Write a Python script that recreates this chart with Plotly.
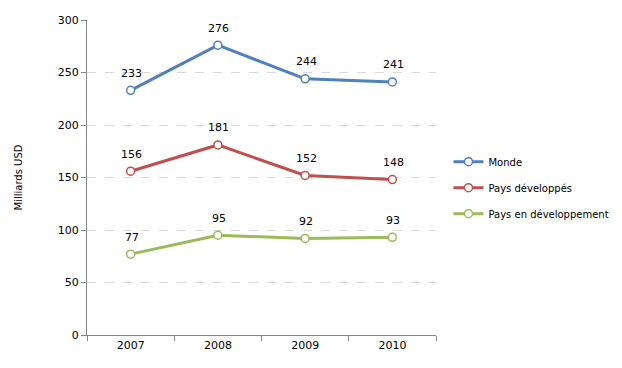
import plotly.graph_objects as go

years = ["2007", "2008", "2009", "2010"]
monde = [233, 276, 244, 241]
developpes = [156, 181, 152, 148]
en_dev = [77, 95, 92, 93]

series = [
    ("Monde", monde, "#4F81BD"),
    ("Pays développés", developpes, "#C0504D"),
    ("Pays en développement", en_dev, "#9BBB59"),
]

FONT = "DejaVu Sans"
fig = go.Figure()
annotations = []
for i, (name, vals, col) in enumerate(series):
    fig.add_trace(go.Scatter(
        x=years, y=vals, name=name, legendgroup=f"g{i}",
        mode="lines+markers",
        line=dict(color=col, width=3),
        marker=dict(symbol="circle", size=8, color="white",
                    line=dict(color=col, width=1.5)),
        cliponaxis=False,
    ))
    for j, v in enumerate(vals):
        annotations.append(dict(x=j, y=v, xref="x", yref="y", text=str(v),
                                showarrow=False, yshift=17, xshift=1,
                                font=dict(family=FONT, size=11, color="#000000")))

fig.update_layout(
    width=622, height=368,
    margin=dict(l=87, r=186, t=20, b=33),
    paper_bgcolor="white", plot_bgcolor="white",
    font=dict(family=FONT, size=11, color="#000000"),
    showlegend=True,
    annotations=annotations,
    legend=dict(xref="container", yref="container", x=0.721, y=0.6,
                xanchor="left", yanchor="top",
                font=dict(family=FONT, size=10, color="#000000"),
                tracegroupgap=7, itemwidth=30),
    xaxis=dict(type="category", range=[-0.5, 3.5], tickson="boundaries",
               showline=True, linecolor="#868686", linewidth=1,
               ticks="outside", ticklen=5, tickcolor="#868686",
               showgrid=False, zeroline=False,
               tickfont=dict(family=FONT, size=11)),
    yaxis=dict(range=[0, 300], tickvals=[0, 50, 100, 150, 200, 250, 300],
               showline=True, linecolor="#868686", linewidth=1,
               ticks="outside", ticklen=5, tickcolor="#868686",
               showgrid=True, gridcolor="#D9D9D9", griddash="dash",
               zeroline=False,
               tickfont=dict(family=FONT, size=11),
               title=dict(text="Milliards USD", standoff=33,
                          font=dict(family=FONT, size=10))),
)

fig.write_html("out.html", config={"displayModeBar": False})
with open("out.html", encoding="utf-8") as f:
    html = f.read()
html = html.replace("<body>", '<body style="margin:0">', 1)
with open("out.html", "w", encoding="utf-8") as f:
    f.write(html)
